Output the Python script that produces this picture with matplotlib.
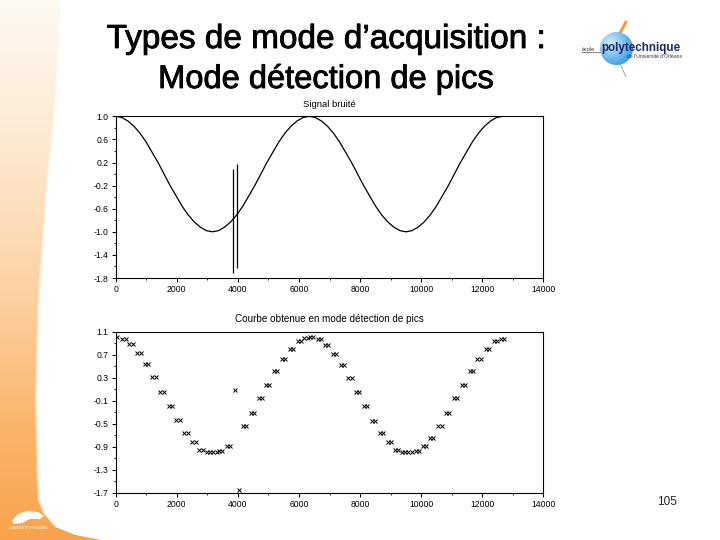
import numpy as np
import matplotlib
matplotlib.use("Agg")
import matplotlib.pyplot as plt
import matplotlib.patheffects as pe
from matplotlib.patches import Circle, Polygon
from matplotlib.ticker import AutoMinorLocator

# ---------------- data ----------------
title_lines = ["Types de mode d\u2019acquisition :", "Mode détection de pics"]
top_title = "Signal bruité"
bottom_title = "Courbe obtenue en mode détection de pics"
page_number = "105"

# noisy signal (top): sample positions and values
sig_x = np.arange(0, 12673, 198)
sig_y = [1.00, 0.98, 0.92, 0.83, 0.71, 0.56, 0.38, 0.20, 0.00, -0.20, -0.38,
         -0.56, -0.71, -0.83, -0.92, -0.98, -1.00, -0.98, -0.92, -0.83, -0.71,
         -0.56, -0.38, -0.20, 0.00, 0.20, 0.38, 0.56, 0.71, 0.83, 0.92, 0.98,
         1.00, 0.98, 0.92, 0.83, 0.71, 0.56, 0.38, 0.20, 0.00, -0.20, -0.38,
         -0.56, -0.71, -0.83, -0.92, -0.98, -1.00, -0.98, -0.92, -0.83, -0.71,
         -0.56, -0.38, -0.20, 0.00, 0.20, 0.38, 0.56, 0.71, 0.83, 0.92, 0.98,
         1.00]
# noise spikes
spike_x = [3851, 3982]
spike_top = [0.09, 0.17]
spike_bot = [-1.71, -1.62]

# peak-detect curve (bottom): centres of each pair of points and their value
pair_x = [273, 502, 764, 1014, 1255, 1517, 1790, 2040, 2302, 2564, 2793,
          3040, 3250, 3440, 3688, 4212, 4485, 4737, 4965, 5238, 5488, 5750,
          6012, 6230, 6420, 6667, 6908, 7158, 7420, 7671, 7922, 8184, 8447,
          8709, 8958, 9200, 9420, 9640, 9875, 10104, 10345, 10617, 10869,
          11131, 11393, 11655, 11894, 12178, 12428, 12670]
pair_y = [0.97, 0.88, 0.73, 0.53, 0.31, 0.06, -0.20, -0.44, -0.66, -0.81,
          -0.95, -0.99, -1.00, -0.98, -0.88, -0.54, -0.31, -0.06, 0.18, 0.42,
          0.63, 0.80, 0.93, 0.99, 1.00, 0.97, 0.87, 0.72, 0.52, 0.30, 0.06,
          -0.20, -0.45, -0.66, -0.82, -0.95, -0.99, -1.00, -0.98, -0.88,
          -0.74, -0.54, -0.31, -0.06, 0.18, 0.42, 0.63, 0.80, 0.93, 0.98]
single_x = [40, 3895, 4037]
single_y = [1.00, 0.09, -1.65]

xticks = [0, 2000, 4000, 6000, 8000, 10000, 12000, 14000]
xtick_labels = ["0", "2000", "4000", "6000", "8000", "10000", "12000", "14000"]
top_yticks = [1.0, 0.6, 0.2, -0.2, -0.6, -1.0, -1.4, -1.8]
top_ytick_labels = ["1.0", "0.6", "0.2", "-0.2", "-0.6", "-1.0", "-1.4", "-1.8"]
bot_yticks = [1.1, 0.7, 0.3, -0.1, -0.5, -0.9, -1.3, -1.7]
bot_ytick_labels = ["1.1", "0.7", "0.3", "-0.1", "-0.5", "-0.9", "-1.3", "-1.7"]

# ---------------- figure ----------------
plt.rcParams['font.family'] = ['Liberation Sans', 'DejaVu Sans']
W, H = 720, 540
fig = plt.figure(figsize=(7.2, 5.4), dpi=100)
fig.patch.set_facecolor("white")

# background slide decoration
bg = fig.add_axes([0, 0, 1, 1], zorder=-10)
yy = np.arange(H) + 0.5
xx = np.arange(W) + 0.5
b_y = [0, 100, 200, 300, 400, 480, 500, 513, 527, 535, 541]
b_x = [62, 57, 47, 40, 37, 39, 40, 45, 57, 77, 108]
xb = np.interp(yy, b_y, b_x)
c_y = [0, 150, 300, 420, 540]
cols = np.array([[254, 249, 243], [253, 232, 208], [252, 208, 160],
                 [250, 182, 110], [248, 163, 75]], float)
rowcol = np.stack([np.interp(yy, c_y, cols[:, i]) for i in range(3)], axis=1)
X, Y = np.meshgrid(xx, yy)
t = np.clip((xb[:, None] - X) / 3.0, 0, 1)
base = rowcol[:, None, :] / 255.0
img = 1 - t[..., None] * (1 - base)
bg.imshow(img, extent=[0, W, H, 0], interpolation="bilinear", aspect="auto")
bg.set_xlim(0, W)
bg.set_ylim(H, 0)
bg.axis("off")

# bottom-left small logo (white)
blob = Polygon([[12, 521], [18, 514], [27, 511], [38, 512], [44, 516],
                [40, 519], [30, 519], [22, 523], [14, 524]],
               closed=True, facecolor="white", edgecolor="none")
bg.add_patch(blob)
bg.text(28, 528, "UNIVERSITÉ D'ORLÉANS", fontsize=2.3, color="white",
        ha="center", va="center")

# top-right logo
bg.plot([620, 626], [33, 22], color="#f39a3a", lw=2.2, solid_capstyle="round")
bg.plot([620, 626], [64, 77], color="#9a9a9a", lw=0.6)
circ = Circle((616.5, 48.5), 16.5, transform=bg.transData, facecolor="none",
              edgecolor="none")
bg.add_patch(circ)
n = 80
gx, gy = np.meshgrid(np.linspace(-1, 1, n), np.linspace(-1, 1, n))
d = np.sqrt((gx + 0.35) ** 2 + (gy + 0.35) ** 2) / 1.6
d = np.clip(d, 0, 1)
c0 = np.array([205, 238, 255]) / 255.0
c1 = np.array([45, 150, 225]) / 255.0
sph = c0 + d[..., None] * (c1 - c0)
im = bg.imshow(sph, extent=[600, 633, 65, 32], interpolation="bilinear",
               aspect="auto", zorder=2)
im.set_clip_path(circ)
bg.set_xlim(0, W)
bg.set_ylim(H, 0)
bg.text(582, 49.5, "école", fontsize=4, color="#333333", ha="left",
        va="center", zorder=3)
bg.plot([582, 600], [52, 52], color="#555555", lw=0.5, zorder=3)
bg.text(601, 48.5, "polytechnique", fontsize=8.4, fontweight="bold",
        color="#1c2a66", ha="left", va="center", zorder=3)
bg.text(627, 57, "de l'Université d'Orléans", fontsize=3.6, color="#333333",
        ha="left", va="center", zorder=3)

# title
heavy = [pe.withStroke(linewidth=0.6, foreground="black")]
fig.text(326 / W, 1 - 48 / H, title_lines[0], fontsize=24, ha="center",
         va="baseline", color="black", path_effects=heavy)
fig.text(326 / W, 1 - 88 / H, title_lines[1], fontsize=23.5, ha="center",
         va="baseline", color="black", path_effects=heavy)

# page number
fig.text(667 / W, 1 - 502 / H, page_number, fontsize=8.5, ha="center",
         va="center", color="#222222")

ax_left = 115.7 / W
ax_w = (543.3 - 115.7) / W
ax1 = fig.add_axes([ax_left, 1 - 278 / H, ax_w, (278 - 116.3) / H])
ax2 = fig.add_axes([ax_left, 1 - 492.7 / H, ax_w, (492.7 - 331.7) / H])

ax1.plot(sig_x, sig_y, color="black", lw=0.9)
ax1.vlines(spike_x, spike_bot, spike_top, color="black", lw=0.9)

px = []
py = []
for xc, yv in zip(pair_x, pair_y):
    px += [xc - 55, xc + 55]
    py += [yv, yv]
ax2.plot(px, py, linestyle="none", marker="x", markersize=3.2, mew=0.7,
         color="black")
ax2.plot(single_x, single_y, linestyle="none", marker="x", markersize=3.2,
         mew=0.7, color="black")

for ax, yt, ytl, ylim, ttl, tfs in [
        (ax1, top_yticks, top_ytick_labels, (-1.8, 1.0), top_title, 6.8),
        (ax2, bot_yticks, bot_ytick_labels, (-1.7, 1.1), bottom_title, 7.1)]:
    ax.set_xlim(0, 14000)
    ax.set_ylim(*ylim)
    ax.set_xticks(xticks)
    ax.set_xticklabels(xtick_labels)
    ax.set_yticks(yt)
    ax.set_yticklabels(ytl)
    ax.xaxis.set_minor_locator(AutoMinorLocator(2))
    ax.yaxis.set_minor_locator(AutoMinorLocator(2))
    ax.tick_params(which="major", direction="out", length=3, width=0.7,
                   labelsize=6.2, pad=2, colors="black")
    ax.tick_params(which="minor", direction="out", length=1.5, width=0.6)
    for s in ax.spines.values():
        s.set_linewidth(0.8)
    ax.set_title(ttl, fontsize=tfs, pad=7)
    ax.set_facecolor("none")

fig.savefig("out.png", dpi=100)
